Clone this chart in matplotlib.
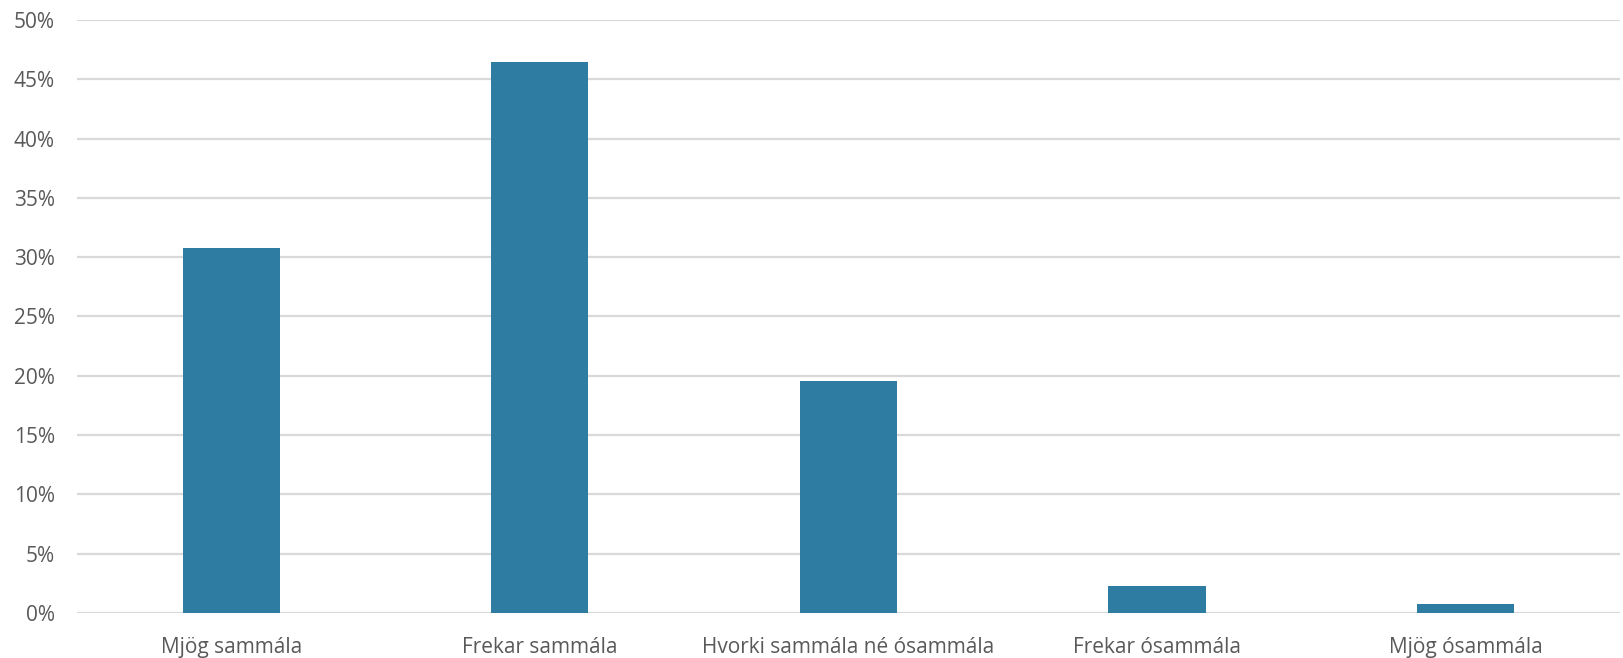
import matplotlib.pyplot as plt
from matplotlib.ticker import PercentFormatter, MultipleLocator

categories = ["Mjög sammála", "Frekar sammála", "Hvorki sammála né ósammála",
              "Frekar ósammála", "Mjög ósammála"]
values = [30.8, 46.5, 19.6, 2.3, 0.8]

plt.rcParams['font.family'] = ['Open Sans', 'DejaVu Sans']

fig = plt.figure(figsize=(16.23, 6.58), dpi=100)
ax = fig.add_axes([0.0474, 0.0684, 0.9506, 0.9012])

x = range(len(categories))
ax.bar(x, values, width=0.315, color='#2E7CA1', zorder=3)

ax.set_xlim(-0.5, len(categories) - 0.5)
ax.set_ylim(0, 50)
ax.yaxis.set_major_locator(MultipleLocator(5))
ax.yaxis.set_major_formatter(PercentFormatter(decimals=0))
ax.set_xticks(list(x))
ax.set_xticklabels(categories)

ax.grid(axis='y', color='#D9D9D9', linewidth=1.6, zorder=0)
for s in ax.spines.values():
    s.set_visible(False)
ax.tick_params(axis='both', length=0, labelsize=15, colors='#595959')
ax.tick_params(axis='y', pad=16)
ax.tick_params(axis='x', pad=17)

fig.savefig('out.png', dpi=100)
